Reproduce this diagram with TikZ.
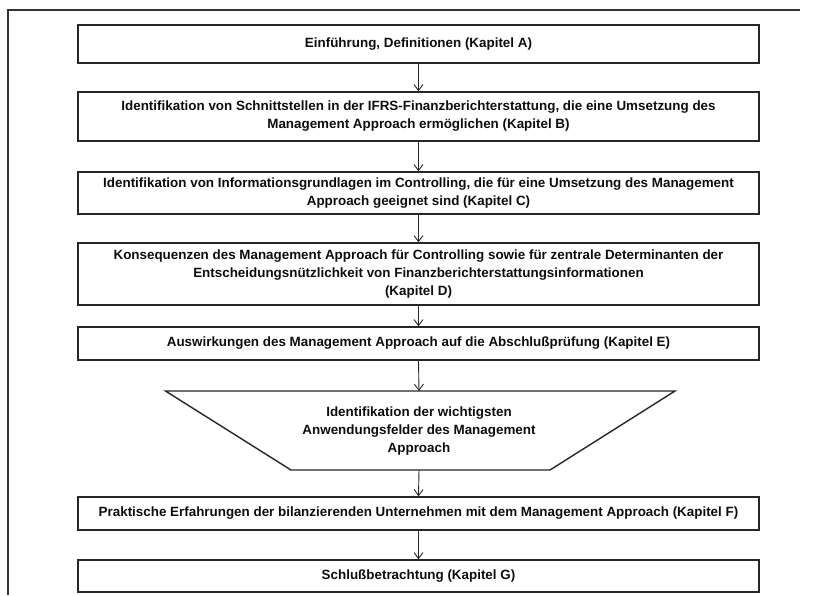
\documentclass[tikz,border=0pt]{standalone}
\usepackage{fontspec}
\setmainfont{Liberation Sans}
\usetikzlibrary{arrows.meta}
\begin{document}
\begin{tikzpicture}[x=1pt,y=-1pt,
  every node/.style={font=\fontsize{13.4}{18}\selectfont\bfseries, text=black!95},
  stepbox/.style={draw=black!85, line width=1.4pt, minimum width=681pt, inner sep=0pt, align=center},
  flow/.style={draw=black!85, line width=0.9pt, -{Straight Barb[length=6pt,width=9pt,line width=0.9pt]}},
  frameline/.style={draw=black!80, line width=1.2pt}]
\useasboundingbox (0,0) rectangle (824,595);
% outer page frame (top and left edges)
\draw[frameline] (8,595) -- (8,10) -- (800,10);

\node[stepbox, minimum height=38pt] (a) at (418.5,44) {Einführung, Definitionen (Kapitel A)};
\node[stepbox, minimum height=49pt] (b) at (418.5,116.5) {Identifikation von Schnittstellen in der IFRS-Finanzberichterstattung, die eine Umsetzung des\\Management Approach ermöglichen (Kapitel B)};
\node[stepbox, minimum height=42pt] (c) at (418.5,193) {Identifikation von Informationsgrundlagen im Controlling, die für eine Umsetzung des Management\\Approach geeignet sind (Kapitel C)};
\node[stepbox, minimum height=62pt] (d) at (418.5,274) {Konsequenzen des Management Approach für Controlling sowie für zentrale Determinanten der\\Entscheidungsnützlichkeit von Finanzberichterstattungsinformationen\\(Kapitel D)};
\node[stepbox, minimum height=33pt] (e) at (418.5,343.5) {Auswirkungen des Management Approach auf die Abschlußprüfung (Kapitel E)};

% funnel-shaped step
\coordinate (ttop) at (419,391);
\coordinate (tbot) at (419,470);
\draw[draw=black!85, line width=1.4pt, line join=miter] (165.5,391) -- (675,391) -- (550,470) -- (291,470) -- cycle;
\node[align=center] (t) at (419,431) {Identifikation der wichtigsten\\Anwendungsfelder des Management\\Approach};

\node[stepbox, minimum height=33pt] (f) at (418.5,513.5) {Praktische Erfahrungen der bilanzierenden Unternehmen mit dem Management Approach (Kapitel F)};
\node[stepbox, minimum height=32pt] (g) at (418.5,576) {Schlußbetrachtung (Kapitel G)};

\draw[flow] (a.south) -- (b.north);
\draw[flow] (b.south) -- (c.north);
\draw[flow] (c.south) -- (d.north);
\draw[flow] (d.south) -- (e.north);
\draw[flow] (e.south) -- (ttop);
\draw[flow] (tbot) -- (f.north);
\draw[flow] (f.south) -- (g.north);
\end{tikzpicture}
\end{document}
